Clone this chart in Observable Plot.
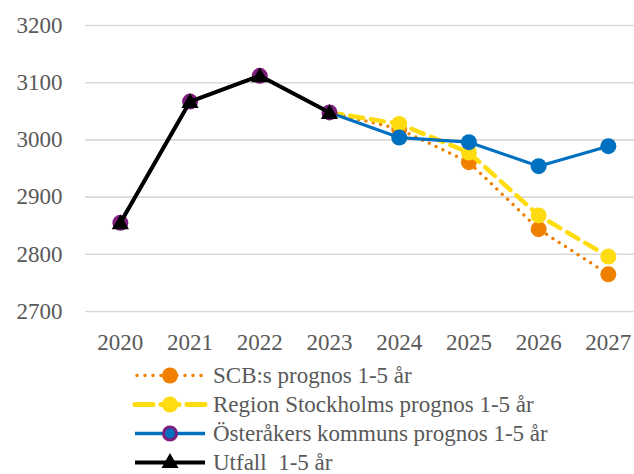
<!DOCTYPE html>
<html>
<head>
<meta charset="utf-8">
<script src="https://cdn.jsdelivr.net/npm/d3@7"></script>
<script src="https://cdn.jsdelivr.net/npm/@observablehq/plot@0.6"></script>
<style>
  body { margin: 0; background: #fff; }
  #wrap { width: 634px; height: 474px; overflow: hidden; position: relative; font-family: "Liberation Serif", "DejaVu Serif", serif; color: #595959; }
  #legend { position: absolute; left: 135px; top: 361px; }
  .item { display: flex; align-items: center; height: 29px; }
  .item svg { width: 70px; height: 29px; margin-right: 8px; overflow: visible; }
  .item span { font-size: 23px; line-height: 29px; white-space: pre; }
</style>
</head>
<body>
<div id="wrap"><div id="chart"></div><div id="legend"></div></div>
<script>
// ---- data ----
const years = [2020, 2021, 2022, 2023, 2024, 2025, 2026, 2027];
const yTicks = [2700, 2800, 2900, 3000, 3100, 3200];

const utfallYears = [2020, 2021, 2022, 2023];
const utfall = [2855, 3067, 3112, 3048];

const osterakerYears = [2020, 2021, 2022, 2023, 2024, 2025, 2026, 2027];
const osteraker = [2855, 3067, 3112, 3048, 3004, 2996, 2954, 2989];

const prognosYears = [2023, 2024, 2025, 2026, 2027];
const scb = [3048, 3019, 2961, 2844, 2765];
const region = [3048, 3028, 2978, 2868, 2796];

const seriesNames = [
  "SCB:s prognos 1-5 år",
  "Region Stockholms prognos 1-5 år",
  "Österåkers kommuns prognos 1-5 år",
  "Utfall  1-5 år"
];

// ---- tables ----
const toRows = (xs, vs) => xs.map((x, i) => ({year: x, value: vs[i]}));
const utfallRows = toRows(utfallYears, utfall);
const ostRows = toRows(osterakerYears, osteraker);
const scbRows = toRows(prognosYears, scb);
const regionRows = toRows(prognosYears, region);

const ORANGE = "#F08000", YELLOW = "#FFDC10", BLUE = "#0070C0", PURPLE = "#7E1F7E", BLACK = "#000";
const SERIF = "Liberation Serif";

const chart = Plot.plot({
  width: 634,
  height: 360,
  marginLeft: 85,
  marginRight: 0,
  marginTop: 25,
  marginBottom: 49,
  style: {fontSize: "23px", color: "#595959", background: "#fff", fontFamily: "'Liberation Serif', serif"},
  x: {type: "linear", domain: [2019.5, 2027.5], range: [85, 642.7]},
  y: {domain: [2700, 3200]},
  marks: [
    Plot.ruleY(yTicks, {stroke: "#D9D9D9", strokeWidth: 1.6}),
    Plot.axisY({ticks: yTicks, tickFormat: d => String(d), tickSize: 0, tickPadding: 23, fontSize: 23, fontFamily: SERIF, label: null}),
    Plot.axisX({ticks: years, tickFormat: d => String(d), tickSize: 0, tickPadding: 22, fontSize: 23, fontFamily: SERIF, label: null}),
    // SCB
    Plot.line(scbRows, {x: "year", y: "value", stroke: ORANGE, strokeWidth: 3.5, strokeDasharray: "0,7.5", strokeLinecap: "round"}),
    Plot.dot(scbRows.slice(1), {x: "year", y: "value", r: 8, fill: ORANGE}),
    // Region
    Plot.line(regionRows, {x: "year", y: "value", stroke: YELLOW, strokeWidth: 4.5, strokeDasharray: "13,8"}),
    Plot.dot(regionRows.slice(1), {x: "year", y: "value", r: 8, fill: YELLOW}),
    // Österåker
    Plot.line(ostRows, {x: "year", y: "value", stroke: BLUE, strokeWidth: 3.2}),
    Plot.dot(ostRows.filter(d => d.year <= 2023), {x: "year", y: "value", r: 8, fill: PURPLE}),
    Plot.dot(ostRows.filter(d => d.year > 2023), {x: "year", y: "value", r: 8, fill: BLUE}),
    // Utfall
    Plot.line(utfallRows, {x: "year", y: "value", stroke: BLACK, strokeWidth: 4}),
    Plot.dot(utfallRows, {x: "year", y: "value", symbol: "triangle", r: 6.4, fill: BLACK, dy: 1.5})
  ]
});
document.getElementById("chart").appendChild(chart);

// ---- legend ----
const swatches = [
  `<line x1="2" x2="68" y1="14.5" y2="14.5" stroke="${ORANGE}" stroke-width="3.5" stroke-dasharray="0,8" stroke-linecap="round"/><circle cx="35" cy="14.5" r="8" fill="${ORANGE}"/>`,
  `<line x1="0" x2="70" y1="14.5" y2="14.5" stroke="${YELLOW}" stroke-width="5" stroke-linecap="round" stroke-dasharray="18,8"/><circle cx="35" cy="14.5" r="8" fill="${YELLOW}"/>`,
  `<line x1="0" x2="70" y1="14.5" y2="14.5" stroke="${BLUE}" stroke-width="3.5"/><circle cx="35" cy="14.5" r="6.5" fill="${BLUE}" stroke="${PURPLE}" stroke-width="3"/>`,
  `<line x1="0" x2="70" y1="14.5" y2="14.5" stroke="${BLACK}" stroke-width="4"/><path d="M35,5 L43.5,20 L26.5,20 Z" fill="${BLACK}"/>`
];
const legend = document.getElementById("legend");
seriesNames.forEach((name, i) => {
  const div = document.createElement("div");
  div.className = "item";
  div.innerHTML = `<svg viewBox="0 0 70 29">${swatches[i]}</svg><span></span>`;
  div.querySelector("span").textContent = name;
  legend.appendChild(div);
});
</script>
</body>
</html>
